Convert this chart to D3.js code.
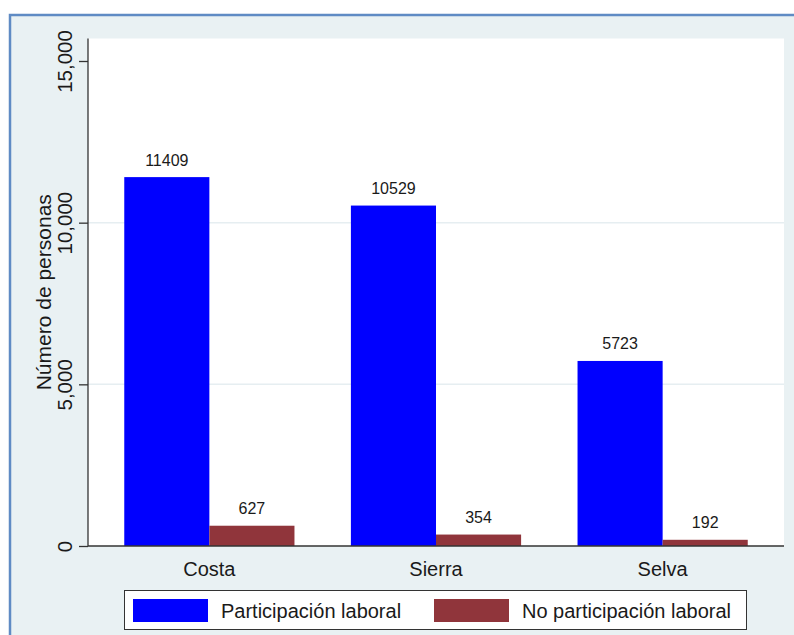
<!DOCTYPE html>
<html>
<head>
<meta charset="utf-8">
<script src="https://cdn.jsdelivr.net/npm/d3@7"></script>
<style>
  html, body { margin: 0; padding: 0; background: #ffffff; }
  svg { display: block; font-family: "Liberation Sans", Arial, sans-serif; }
</style>
</head>
<body>
<svg id="chart" width="794" height="635"></svg>
<script>
// ---- data ----
const categories = ["Costa", "Sierra", "Selva"];
const seriesNames = ["Participación laboral", "No participación laboral"];
const participacion = [11409, 10529, 5723];
const noParticipacion = [627, 354, 192];
const yTicks = [0, 5000, 10000, 15000];
const yTickLabels = ["0", "5,000", "10,000", "15,000"];
const yTitle = "Número de personas";
const seriesColors = ["#0000ff", "#90353b"];

// ---- layout ----
const svg = d3.select("#chart");
const W = 794, H = 635;
const plot = { left: 88, right: 784, top: 38.5, bottom: 546 };

// outer frame
svg.append("rect").attr("x", 0).attr("y", 0).attr("width", W).attr("height", H).attr("fill", "#ffffff");
svg.append("rect").attr("x", 10).attr("y", 15).attr("width", W + 20).attr("height", H + 20)
  .attr("fill", "#e9f1f3").attr("stroke", "#5f8bc4").attr("stroke-width", 2.5);

// plot region
svg.append("rect").attr("x", plot.left).attr("y", plot.top)
  .attr("width", plot.right - plot.left).attr("height", plot.bottom - plot.top)
  .attr("fill", "#ffffff");

const y = d3.scaleLinear().domain([0, 15000]).range([546, 61]);
const x0 = d3.scaleBand().domain(categories).range([plot.left, plot.right])
  .paddingInner(0.249).paddingOuter(0.16);
const x1 = d3.scaleBand().domain(seriesNames).range([0, x0.bandwidth()]).padding(0);

// gridlines (interior ticks only)
svg.append("g").selectAll("line")
  .data(yTicks.filter(t => t > 0 && t < 15000))
  .join("line")
  .attr("x1", plot.left).attr("x2", plot.right)
  .attr("y1", d => y(d)).attr("y2", d => y(d))
  .attr("stroke", "#e6eef1").attr("stroke-width", 1.5);

// bars
const rows = categories.map((c, i) => ({
  cat: c,
  vals: [
    { s: seriesNames[0], v: participacion[i], color: seriesColors[0] },
    { s: seriesNames[1], v: noParticipacion[i], color: seriesColors[1] }
  ]
}));

const groups = svg.append("g").selectAll("g").data(rows).join("g")
  .attr("transform", d => `translate(${x0(d.cat)},0)`);

groups.selectAll("rect").data(d => d.vals).join("rect")
  .attr("x", d => x1(d.s))
  .attr("y", d => y(d.v))
  .attr("width", x1.bandwidth())
  .attr("height", d => y(0) - y(d.v))
  .attr("fill", d => d.color);

groups.selectAll("text").data(d => d.vals).join("text")
  .attr("x", d => x1(d.s) + x1.bandwidth() / 2)
  .attr("y", d => y(d.v) - 11.5)
  .attr("text-anchor", "middle")
  .attr("font-size", 16)
  .attr("fill", "#1a1a1a")
  .text(d => d.v);

// y axis
const yAxis = d3.axisLeft(y).tickValues(yTicks)
  .tickFormat((d, i) => yTickLabels[i]).tickSize(9).tickPadding(7);
const gy = svg.append("g").attr("transform", `translate(${plot.left},0)`).call(yAxis);
gy.select(".domain").remove();
gy.selectAll(".tick line").attr("stroke", "#333333").attr("stroke-width", 1.3);
gy.selectAll(".tick text")
  .attr("font-size", 20.5)
  .attr("fill", "#1a1a1a")
  .attr("font-family", "'Liberation Sans', Arial, sans-serif")
  .attr("x", 0).attr("y", 0).attr("dy", null)
  .attr("text-anchor", "middle")
  .attr("transform", "translate(-16,0) rotate(-90)");
svg.append("line").attr("x1", plot.left).attr("x2", plot.left)
  .attr("y1", plot.top).attr("y2", plot.bottom)
  .attr("stroke", "#333333").attr("stroke-width", 1.3);

// x axis
const xAxis = d3.axisBottom(x0).tickSize(0).tickPadding(0);
const gx = svg.append("g").attr("transform", `translate(0,${plot.bottom})`).call(xAxis);
gx.select(".domain").remove();
gx.selectAll(".tick text")
  .attr("font-size", 20)
  .attr("fill", "#1a1a1a")
  .attr("font-family", "'Liberation Sans', Arial, sans-serif")
  .attr("dy", null)
  .attr("y", 30);
svg.append("line").attr("x1", plot.left).attr("x2", plot.right)
  .attr("y1", plot.bottom).attr("y2", plot.bottom)
  .attr("stroke", "#333333").attr("stroke-width", 1.3);

// y title
svg.append("text")
  .attr("transform", `translate(51,${(plot.top + plot.bottom) / 2}) rotate(-90)`)
  .attr("text-anchor", "middle")
  .attr("font-size", 21)
  .attr("fill", "#1a1a1a")
  .text(yTitle);

// legend
const legend = svg.append("g");
legend.append("rect").attr("x", 124.5).attr("y", 590.5).attr("width", 622).attr("height", 39)
  .attr("fill", "#ffffff").attr("stroke", "#333333").attr("stroke-width", 1);
const legX = [133, 434];
seriesNames.forEach((s, i) => {
  legend.append("rect").attr("x", legX[i]).attr("y", 599).attr("width", 75).attr("height", 23)
    .attr("fill", seriesColors[i]);
  legend.append("text").attr("x", legX[i] + 88).attr("y", 618)
    .attr("font-size", 20).attr("fill", "#1a1a1a").text(s);
});
</script>
</body>
</html>
